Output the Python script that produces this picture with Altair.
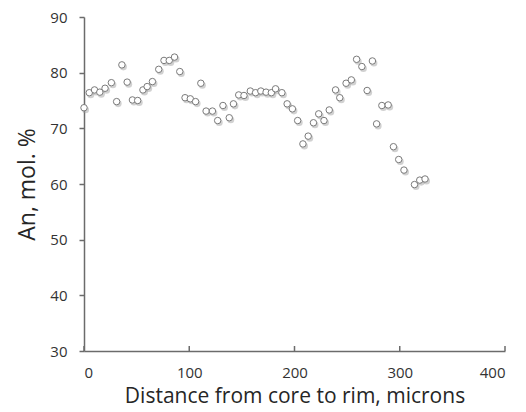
import altair as alt
import pandas as pd

distance = [0, 5, 10, 15, 20, 26, 31, 36, 41, 46, 51, 56, 60, 65, 71, 76, 81, 86, 91, 96,
            101, 106, 111, 116, 122, 127, 132, 138, 142, 147, 152, 158, 163, 168, 173, 178,
            182, 188, 193, 198, 203, 208, 213, 218, 223, 228, 233, 239, 243, 249, 254, 259,
            264, 269, 274, 278, 283, 289, 294, 299, 304, 314, 319, 324]
an = [73.7, 76.4, 76.9, 76.5, 77.2, 78.2, 74.8, 81.4, 78.3, 75.1, 75.0, 76.9, 77.5, 78.4,
      80.6, 82.2, 82.2, 82.8, 80.2, 75.5, 75.3, 74.8, 78.1, 73.1, 73.1, 71.4, 74.1, 71.9,
      74.4, 76.0, 75.9, 76.7, 76.4, 76.7, 76.5, 76.4, 77.1, 76.4, 74.4, 73.5, 71.4, 67.2,
      68.6, 71.0, 72.6, 71.4, 73.3, 76.9, 75.5, 78.1, 78.7, 82.4, 81.1, 76.8, 82.1, 70.8,
      74.1, 74.2, 66.7, 64.4, 62.5, 59.9, 60.7, 60.9]
x_ticks = [0, 100, 200, 300, 400]
y_ticks = [30, 40, 50, 60, 70, 80, 90]

df = pd.DataFrame({"d": distance, "an": an})
ticks_df = pd.DataFrame({"t": x_ticks})

FONT = "Open Sans"
AX = "#6b6b6b"
W, H = 421, 334

xs = alt.Scale(domain=[0, 400], nice=False)
ys = alt.Scale(domain=[30, 90], nice=False)

shadow = alt.Chart(df).mark_point(
    filled=True, size=50, color="#9a9a9a", opacity=0.45, xOffset=1.5, yOffset=2
).encode(
    x=alt.X("d:Q", scale=xs,
            axis=alt.Axis(values=x_ticks, ticks=False, grid=False, domainColor=AX,
                          domainWidth=1.5, labelFont=FONT, labelFontSize=15,
                          labelColor="#333333", labelPadding=14,
                          title="Distance from core to rim, microns", titleFont=FONT,
                          titleFontSize=21, titleFontWeight="normal",
                          titleColor="#262626", titlePadding=5)),
    y=alt.Y("an:Q", scale=ys,
            axis=alt.Axis(values=y_ticks, tickSize=5, tickColor=AX, tickWidth=1.5,
                          grid=False, domainColor=AX, domainWidth=1.5, labelFont=FONT,
                          labelFontSize=15, labelColor="#333333", labelPadding=12,
                          title="An, mol. %", titleFont=FONT, titleFontSize=23,
                          titleFontWeight="normal", titleColor="#262626",
                          titlePadding=10)),
)

points = alt.Chart(df).mark_point(
    filled=True, size=42, fill="white", stroke="#7a7a7a", strokeWidth=1, opacity=1
).encode(x=alt.X("d:Q", scale=xs), y=alt.Y("an:Q", scale=ys))

xticks = alt.Chart(ticks_df).mark_rule(color=AX, strokeWidth=1.5).encode(
    x=alt.X("t:Q", scale=xs), y=alt.value(H), y2=alt.value(H - 5)
)

chart = alt.layer(shadow, xticks, points).properties(
    width=W, height=H,
    autosize=alt.AutoSizeParams(type="none"),
    padding={"left": 76, "top": 9, "right": 13, "bottom": 60},
).configure_view(stroke=None)

chart.save("out.html", embed_options={"renderer": "svg", "actions": False})
